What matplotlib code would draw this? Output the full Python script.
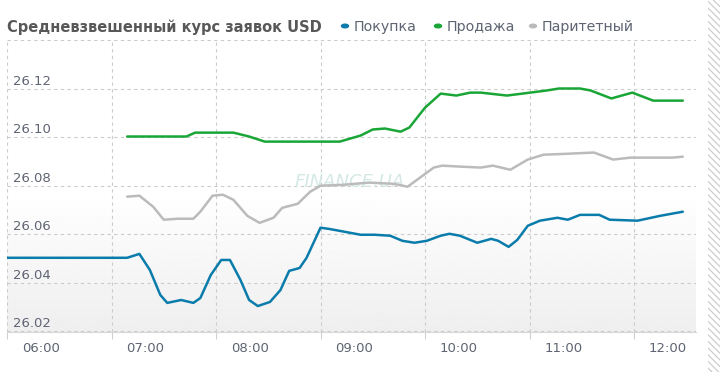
import numpy as np
import matplotlib.pyplot as plt
import matplotlib.transforms as mtransforms
from matplotlib.patches import Rectangle, Circle

# Покупка
buy_times = ['06:00', '07:09', '07:16', '07:22', '07:28', '07:32', '07:40', '07:47', '07:51',
             '07:57', '08:03', '08:08', '08:14', '08:19', '08:24', '08:31', '08:37', '08:42',
             '08:48', '08:52', '09:00', '09:05', '09:14', '09:23', '09:31', '09:40', '09:47',
             '09:54', '10:01', '10:09', '10:14', '10:20', '10:30', '10:38', '10:42', '10:48',
             '10:53', '10:59', '11:06', '11:16', '11:22', '11:29', '11:40', '11:46', '12:02',
             '12:15', '12:28']
buy_rates = [26.0502, 26.0502, 26.0518, 26.0452, 26.0349, 26.0316, 26.0328, 26.0316, 26.0336,
             26.0431, 26.0493, 26.0493, 26.0411, 26.0328, 26.0303, 26.0320, 26.0369, 26.0448,
             26.0460, 26.0502, 26.0626, 26.0621, 26.0609, 26.0597, 26.0597, 26.0593, 26.0572,
             26.0564, 26.0572, 26.0593, 26.0601, 26.0593, 26.0564, 26.0580, 26.0572, 26.0547,
             26.0576, 26.0634, 26.0655, 26.0667, 26.0659, 26.0679, 26.0679, 26.0659, 26.0655,
             26.0675, 26.0692]

# Продажа
sell_times = ['07:09', '07:43', '07:48', '08:10', '08:19', '08:28', '09:11', '09:23', '09:30',
              '09:37', '09:46', '09:51', '10:00', '10:09', '10:18', '10:26', '10:32', '10:47',
              '10:56', '11:10', '11:17', '11:29', '11:35', '11:47', '11:59', '12:11', '12:28']
sell_rates = [26.1002, 26.1002, 26.1018, 26.1018, 26.1002, 26.0981, 26.0981, 26.1006, 26.1031,
              26.1035, 26.1022, 26.1039, 26.1121, 26.1179, 26.1171, 26.1183, 26.1183, 26.1171,
              26.1179, 26.1192, 26.1200, 26.1200, 26.1192, 26.1159, 26.1183, 26.1150, 26.1150]

# Паритетный
par_times = ['07:09', '07:16', '07:24', '07:30', '07:38', '07:47', '07:51', '07:58', '08:04',
             '08:10', '08:18', '08:25', '08:33', '08:38', '08:47', '08:54', '09:00', '09:13',
             '09:28', '09:42', '09:50', '10:05', '10:10', '10:20', '10:32', '10:39', '10:49',
             '10:53', '10:59', '11:08', '11:22', '11:37', '11:48', '11:58', '12:22', '12:28']
par_rates = [26.0754, 26.0758, 26.0712, 26.0659, 26.0663, 26.0663, 26.0692, 26.0758, 26.0762,
             26.0741, 26.0675, 26.0646, 26.0667, 26.0708, 26.0725, 26.0774, 26.0799, 26.0803,
             26.0812, 26.0807, 26.0795, 26.0874, 26.0882, 26.0878, 26.0874, 26.0882, 26.0865,
             26.0882, 26.0907, 26.0927, 26.0931, 26.0936, 26.0907, 26.0915, 26.0915, 26.0919]

hour_labels = ['06:00', '07:00', '08:00', '09:00', '10:00', '11:00', '12:00']
rate_levels = [26.02, 26.04, 26.06, 26.08, 26.10, 26.12]

series_names = ['Покупка', 'Продажа', 'Паритетный']
series_colors = ['#0a7cab', '#1aa637', '#bbbbbb']


def to_hours(stamps):
    return [int(s[:2]) + int(s[3:]) / 60 for s in stamps]


plt.rcParams['font.family'] = 'DejaVu Sans'
plt.rcParams['hatch.linewidth'] = 0.8

fig = plt.figure(figsize=(7.2, 3.72), dpi=100)
ax = fig.add_axes([7 / 720, 40 / 372, 689 / 720, 292 / 372])
ax.set_xlim(6.0, 12.593)
ax.set_ylim(26.0196, 26.14)

# soft grey gradient in the lower half of the plot (white on top)
grad = np.linspace(1.0, 0.935, 100).reshape(-1, 1)
ax.imshow(grad, cmap='gray', vmin=0, vmax=1, aspect='auto',
          extent=[0, 1, 0, 0.48], transform=ax.transAxes, zorder=0)

for name, times, rates, col in zip(series_names,
                                   [buy_times, sell_times, par_times],
                                   [buy_rates, sell_rates, par_rates],
                                   series_colors):
    ax.plot(to_hours(times), rates, color=col, lw=1.8, solid_joinstyle='round',
            solid_capstyle='round', zorder=3)

# grid
hours = to_hours(hour_labels)
ax.set_xticks(hours)
ax.set_yticks(rate_levels + [26.14])
ax.grid(True, color='#cccccc', lw=0.8, ls=(0, (3, 3)))
ax.set_yticklabels([])
ax.tick_params(axis='y', length=0)
ax.tick_params(axis='x', length=5, color='#d0d0d0', colors='#5e6472',
               labelsize=9.5, pad=2)
ax.set_xticklabels(hour_labels)
shift = mtransforms.ScaledTranslation(34 / 100, 0, fig.dpi_scale_trans)
for lbl in ax.get_xticklabels():
    lbl.set_transform(lbl.get_transform() + shift)

for s in ['top', 'right', 'left']:
    ax.spines[s].set_visible(False)
ax.spines['bottom'].set_color('#d8d8d8')

ytrans = mtransforms.blended_transform_factory(ax.transAxes, ax.transData)
off = mtransforms.ScaledTranslation(6 / 100, 4 / 100, fig.dpi_scale_trans)
for lev in rate_levels:
    ax.text(0, lev, f'{lev:.2f}', transform=ytrans + off, ha='left', va='baseline',
            fontsize=9.5, color='#5e6472', zorder=4)

# watermark
ax.text(343 / 689, 1 - (182 - 40) / 292, 'FINANCE.UA', transform=ax.transAxes,
        ha='center', va='center', fontsize=13, style='italic', color='#d4e8e6',
        zorder=2)

# title and legend
fig.text(7 / 720, 1 - 27 / 372, 'Средневзвешенный курс заявок USD', fontsize=10.5,
         fontweight='bold', color='#585858', ha='left', va='center')
legend_x = [345, 438, 533]
for name, col, lx in zip(series_names, series_colors, legend_x):
    fig.patches.append(Circle((lx / 720, 1 - 26 / 372), 3.5 / 720, color=col,
                              transform=fig.transFigure, figure=fig))
    fig.text((lx + 9) / 720, 1 - 27 / 372, name, fontsize=10.2, color='#5e6472',
             ha='left', va='center')

# hatched page edge
fig.patches.append(Rectangle((708 / 720, 0), 12 / 720, 1, transform=fig.transFigure,
                             facecolor='white', edgecolor='#c8c8c8', hatch='\\' * 5,
                             lw=0, figure=fig))

fig.savefig('out.png', dpi=100)
